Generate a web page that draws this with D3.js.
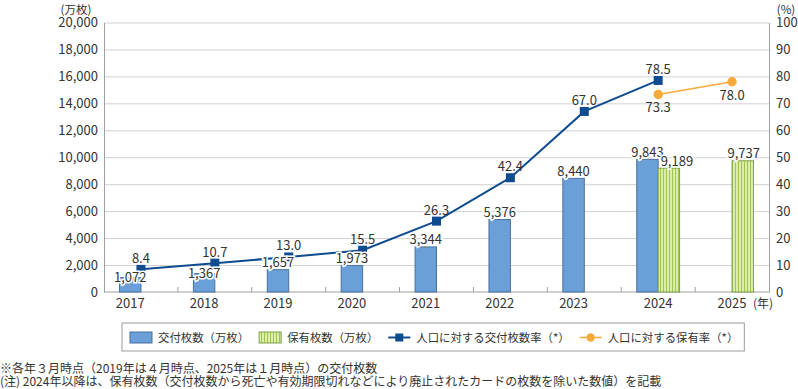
<!DOCTYPE html>
<html>
<head>
<meta charset="utf-8">
<script src="https://cdn.jsdelivr.net/npm/d3@7"></script>
<style>
  body { margin: 0; background: #fff; }
  svg { font-family: "Noto Sans CJK JP", "Noto Sans", sans-serif; }
  text { fill: #333; }
</style>
</head>
<body>
<svg id="chart" width="798" height="389"></svg>
<script>
const years = ["2017", "2018", "2019", "2020", "2021", "2022", "2023", "2024", "2025"];
const issued = [1072, 1367, 1657, 1973, 3344, 5376, 8440, 9843, null];
const held = [null, null, null, null, null, null, null, 9189, 9737];
const issuedRate = [8.4, 10.7, 13.0, 15.5, 26.3, 42.4, 67.0, 78.5, null];
const heldRate = [null, null, null, null, null, null, null, 73.3, 78.0];
const leftTicks = [0, 2000, 4000, 6000, 8000, 10000, 12000, 14000, 16000, 18000, 20000];
const rightTicks = [0, 10, 20, 30, 40, 50, 60, 70, 80, 90, 100];
const legendLabels = ["交付枚数（万枚）", "保有枚数（万枚）", "人口に対する交付枚数率（*）", "人口に対する保有率（*）"];
const notes = [
  "※各年３月時点（2019年は４月時点、2025年は１月時点）の交付枚数",
  "(注) 2024年以降は、保有枚数（交付枚数から死亡や有効期限切れなどにより廃止されたカードの枚数を除いた数値）を記載"
];

const BLUE = "#6b9fd8", BLUE_EDGE = "#4a6f9e";
const LINE_BLUE = "#0e4b8f", ORANGE = "#f7a93b";

const svg = d3.select("#chart");
const plotL = 104, plotR = 769, plotT = 22.5, plotB = 292;

const x = d3.scaleBand().domain(years).range([plotL, plotR]);
const yL = d3.scaleLinear().domain([0, 20000]).range([plotB, plotT]);
const yR = d3.scaleLinear().domain([0, 100]).range([plotB, plotT]);
const barW = x.bandwidth() * 0.29;
const cx = d => x(d) + x.bandwidth() / 2;

// green stripe pattern
const defs = svg.append("defs");
const pat = defs.append("pattern").attr("id", "stripes")
  .attr("patternUnits", "userSpaceOnUse").attr("width", 3).attr("height", 10);
pat.append("rect").attr("width", 3).attr("height", 10).attr("fill", "#dcedab");
pat.append("rect").attr("width", 1).attr("height", 10).attr("fill", "#9fc652");

// gridlines
svg.append("g")
  .attr("transform", `translate(${plotL},0)`)
  .call(d3.axisLeft(yL).tickValues(leftTicks.slice(1)).tickSize(-(plotR - plotL)).tickFormat(""))
  .call(g => g.select(".domain").remove())
  .call(g => g.selectAll("line").attr("stroke", "#d0d0d0"));

// left axis
svg.append("g")
  .attr("transform", `translate(${plotL},0)`)
  .call(d3.axisLeft(yL).tickValues(leftTicks).tickFormat(d3.format(",")).tickSize(0).tickSizeOuter(0).tickPadding(6))
  .call(g => g.select(".domain").attr("stroke", "#a0a0a0"))
  .call(g => g.selectAll("text").attr("font-size", 13).attr("fill", "#333"));

// right axis
svg.append("g")
  .attr("transform", `translate(${plotR},0)`)
  .call(d3.axisRight(yR).tickValues(rightTicks).tickSize(0).tickSizeOuter(0).tickPadding(7))
  .call(g => g.select(".domain").attr("stroke", "#a0a0a0"))
  .call(g => g.selectAll("text").attr("font-size", 13).attr("fill", "#333"));

svg.selectAll("g").attr("font-family", null);

svg.append("text").attr("x", 76).attr("y", 13.5).attr("text-anchor", "middle").attr("font-size", 11.5).text("(万枚)");
svg.append("text").attr("x", 786).attr("y", 13.5).attr("text-anchor", "middle").attr("font-size", 11.5).text("(%)");

// baseline + inward ticks
svg.append("line").attr("x1", plotL).attr("x2", plotR).attr("y1", plotB).attr("y2", plotB).attr("stroke", "#a0a0a0");
svg.selectAll(".xtick").data(years.slice(1)).join("line")
  .attr("x1", d => x(d)).attr("x2", d => x(d))
  .attr("y1", plotB).attr("y2", plotB - 5).attr("stroke", "#a0a0a0");

// x labels: centred on the bars that exist for the year
svg.selectAll(".xlab").data(years).join("text")
  .attr("x", (d, i) => issued[i] != null && held[i] == null ? cx(d) - barW / 2 : cx(d))
  .attr("y", plotB + 16)
  .attr("text-anchor", "middle").attr("font-size", 13)
  .text(d => d);
svg.append("text").attr("x", cx("2025") + 21).attr("y", plotB + 16).attr("font-size", 12).text("(年)");

// bars
const rows = years.map((y, i) => ({ y, i, issued: issued[i], held: held[i], ir: issuedRate[i], hr: heldRate[i] }));

svg.selectAll(".bar-issued").data(rows.filter(d => d.issued != null)).join("rect")
  .attr("x", d => cx(d.y) - barW).attr("width", barW)
  .attr("y", d => yL(d.issued)).attr("height", d => plotB - yL(d.issued))
  .attr("fill", BLUE).attr("stroke", BLUE_EDGE).attr("stroke-width", 1);

svg.selectAll(".bar-held").data(rows.filter(d => d.held != null)).join("rect")
  .attr("x", d => cx(d.y)).attr("width", barW)
  .attr("y", d => yL(d.held)).attr("height", d => plotB - yL(d.held))
  .attr("fill", "url(#stripes)").attr("stroke", "#7fa045").attr("stroke-width", 1);

// lines
const lineIssued = d3.line().x(d => cx(d.y)).y(d => yR(d.ir));
const lineHeld = d3.line().x(d => cx(d.y)).y(d => yR(d.hr));
const ir = rows.filter(d => d.ir != null), hr = rows.filter(d => d.hr != null);

svg.append("path").datum(ir).attr("d", lineIssued).attr("fill", "none").attr("stroke", LINE_BLUE).attr("stroke-width", 2);
svg.append("path").datum(hr).attr("d", lineHeld).attr("fill", "none").attr("stroke", ORANGE).attr("stroke-width", 1.5);

svg.selectAll(".sq").data(ir).join("rect")
  .attr("x", d => cx(d.y) - 4.5).attr("y", d => yR(d.ir) - 4.5)
  .attr("width", 9).attr("height", 9).attr("fill", LINE_BLUE);
svg.selectAll(".dot").data(hr).join("circle")
  .attr("cx", d => cx(d.y)).attr("cy", d => yR(d.hr)).attr("r", 4.7).attr("fill", ORANGE);

// bar value labels (pushed down when they would hit the rate label)
const fmt = d3.format(",");
function barLabel(sel, xf, val, other) {
  sel.attr("x", xf).attr("text-anchor", "middle").attr("font-size", 13)
    .attr("y", d => {
      const yb = yL(val(d)) - 2.5;
      const o = other(d);
      if (o != null && (yb - 4.6) - (yR(o) - 11) < 15) return yL(val(d)) + 4.6;
      return yb;
    })
    .attr("stroke", "#fff").attr("stroke-width", 3).attr("paint-order", "stroke")
    .text(d => fmt(val(d)));
}
svg.selectAll(".lab-issued").data(rows.filter(d => d.issued != null)).join("text")
  .call(barLabel, d => cx(d.y) - barW / 2, d => d.issued, d => d.ir);
svg.selectAll(".lab-held").data(rows.filter(d => d.held != null)).join("text")
  .call(barLabel, d => cx(d.y) + barW / 2 + (d.issued != null ? 8 : 1), d => d.held, d => null);

// rate labels
svg.selectAll(".lab-ir").data(ir).join("text")
  .attr("x", d => cx(d.y)).attr("y", d => yR(d.ir) - 6.5)
  .attr("text-anchor", "middle").attr("font-size", 13)
  .text(d => d3.format(".1f")(d.ir));
svg.selectAll(".lab-hr").data(hr).join("text")
  .attr("x", d => cx(d.y)).attr("y", d => yR(d.hr) + 18)
  .attr("text-anchor", "middle").attr("font-size", 13)
  .text(d => d3.format(".1f")(d.hr));

// legend
const lg = svg.append("g");
const box = lg.append("rect").attr("y", 323).attr("height", 28).attr("fill", "#fff").attr("stroke", "#9a9a9a");
let lx = 130;
const ly = 337.5;
legendLabels.forEach((label, i) => {
  if (i === 0) lg.append("rect").attr("x", lx).attr("y", ly - 5.5).attr("width", 22).attr("height", 11).attr("fill", BLUE).attr("stroke", BLUE_EDGE);
  if (i === 1) lg.append("rect").attr("x", lx).attr("y", ly - 5.5).attr("width", 22).attr("height", 11).attr("fill", "url(#stripes)").attr("stroke", "#7fa045");
  if (i === 2) {
    lg.append("line").attr("x1", lx).attr("x2", lx + 22).attr("y1", ly).attr("y2", ly).attr("stroke", LINE_BLUE).attr("stroke-width", 2);
    lg.append("rect").attr("x", lx + 7).attr("y", ly - 4).attr("width", 8).attr("height", 8).attr("fill", LINE_BLUE);
  }
  if (i === 3) {
    lg.append("line").attr("x1", lx).attr("x2", lx + 22).attr("y1", ly).attr("y2", ly).attr("stroke", ORANGE).attr("stroke-width", 1.5);
    lg.append("circle").attr("cx", lx + 11).attr("cy", ly).attr("r", 4.2).attr("fill", ORANGE);
  }
  const t = lg.append("text").attr("x", lx + 28).attr("y", ly + 4).attr("font-size", 11.4).text(label);
  lx += 28 + t.node().getComputedTextLength() + 10;
});
box.attr("x", 122).attr("width", lx - 10 + 6 - 122);

// notes
svg.selectAll(".note").data(notes).join("text")
  .attr("x", 0).attr("y", (d, i) => 373 + i * 13)
  .attr("font-size", 12).text(d => d);
</script>
</body>
</html>
